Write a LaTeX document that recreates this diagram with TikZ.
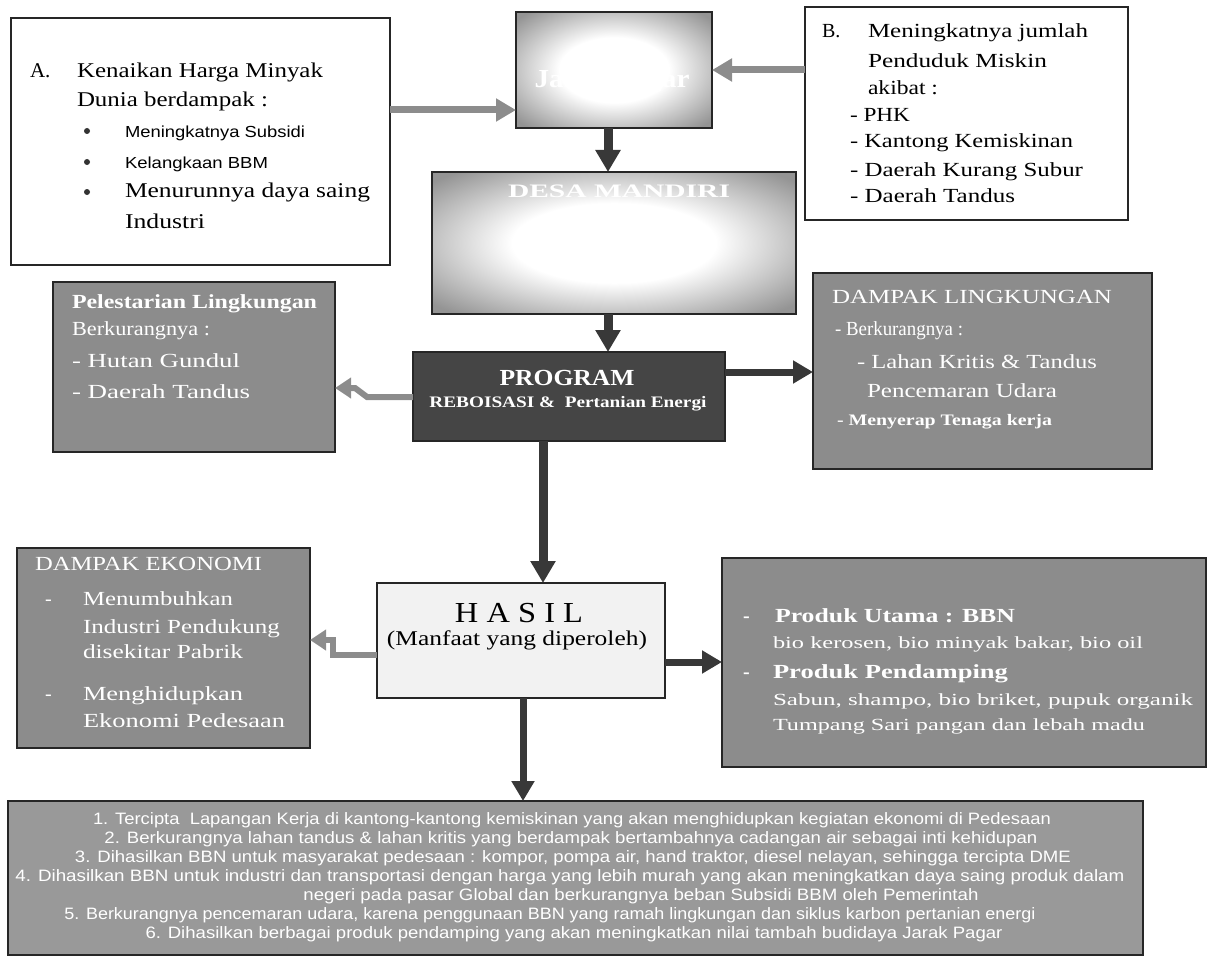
\documentclass[tikz,border=0pt]{standalone}
\usepackage{graphicx}
\usepackage{fontspec}
\setmainfont{Liberation Serif}
\newfontfamily\arial{Liberation Sans}
\usetikzlibrary{arrows.meta}

\definecolor{boxgray}{gray}{0.55}
\definecolor{boxlight}{gray}{0.60}
\definecolor{boxdark}{gray}{0.27}
\definecolor{arrowdark}{gray}{0.22}
\definecolor{arrowgray}{gray}{0.55}
\definecolor{hasilfill}{gray}{0.95}
\definecolor{glowrim}{gray}{0.58}

% white centre fading to grey at the rim
\pgfdeclareradialshading{glow}{\pgfpoint{0bp}{0bp}}{%
  color(0bp)=(white); color(14bp)=(white); color(33bp)=(glowrim); color(50bp)=(glowrim)}

% set a line at a given width (in pt), keeping its height
\newcommand\fitw[2]{\resizebox{#1pt}{\height}{#2}}
\newcommand\fsz[1]{\fontsize{#1}{#1}\selectfont}

\tikzset{
  box/.style={draw=black!85, line width=1.1pt, inner sep=0pt, outer sep=0pt},
  whitebox/.style={box, fill=white},
  graybox/.style={box, fill=boxgray},
  lightbox/.style={box, fill=boxlight},
  darkbox/.style={box, fill=boxdark},
  glowbox/.style={box, shade, shading=glow},
  t/.style={anchor=base west, inner sep=0pt, outer sep=0pt},
  tc/.style={anchor=base, inner sep=0pt, outer sep=0pt},
  wt/.style={t, text=white},
  wtc/.style={tc, text=white},
  bul/.style={circle, fill=black!80, inner sep=0pt, minimum size=6pt},
  darrow/.style={draw=arrowdark, line width=9pt,
    -{Triangle[length=22pt,width=24pt]}},
  darrowthin/.style={draw=arrowdark, line width=7pt,
    -{Triangle[length=20pt,width=22pt]}},
  garrow/.style={draw=arrowgray, line width=7pt,
    -{Triangle[length=20pt,width=22pt]}},
  zarrow/.style={draw=arrowgray, line width=6pt, line join=miter,
    -{Triangle[length=16pt,width=20pt]}},
}

\begin{document}
\begin{tikzpicture}[x=1pt, y=-1pt]
\useasboundingbox (0,0) rectangle (1210,963);

% ---------- boxes ----------
\node[whitebox, minimum width=379pt, minimum height=247pt] (boxA) at (200.5,141.5) {};
\node[glowbox,  minimum width=196pt, minimum height=116pt] (top)  at (614,70) {};
\node[whitebox, minimum width=323pt, minimum height=213pt] (boxB) at (966.5,113.5) {};
\node[glowbox,  minimum width=364pt, minimum height=142pt] (desa) at (614,243) {};
\node[graybox,  minimum width=282pt, minimum height=170pt] (pel)  at (194,367) {};
\node[darkbox,  minimum width=312pt, minimum height=89pt]  (prog) at (569,396.5) {};
\node[graybox,  minimum width=339pt, minimum height=196pt] (ling) at (982.5,371) {};
\node[graybox,  minimum width=293pt, minimum height=200pt] (eko)  at (163.5,648) {};
\node[box, fill=hasilfill, minimum width=288pt, minimum height=115pt] (hasil) at (521,640.5) {};
\node[graybox,  minimum width=484pt, minimum height=209pt] (prod) at (964,662.5) {};
\node[lightbox, minimum width=1135pt, minimum height=154pt] (bottom) at (575.5,878) {};

% ---------- connectors ----------
\draw[garrow] (boxA.east |- 0,110) -- (top.west |- 0,110);
\draw[garrow] (boxB.west |- 0,70) -- (top.east |- 0,70);
\draw[darrow] (608,0 |- top.south) -- (608,0 |- desa.north);
\draw[darrow] (608,0 |- desa.south) -- (608,0 |- prog.north);
\draw[darrowthin] (prog.east |- 0,372) -- (ling.west |- 0,372);
\draw[zarrow] (prog.west |- 0,397) -- (367,397) -- (355,388) -- (pel.east |- 0,388);
\draw[darrow] (543,0 |- prog.south) -- (543,0 |- hasil.north);
\draw[zarrow] (hasil.west |- 0,655) -- (333,655) -- (333,640) -- (eko.east |- 0,640);
\draw[darrowthin] (hasil.east |- 0,662) -- (prod.west |- 0,662);
\draw[darrowthin] (523,0 |- hasil.south) -- (523,0 |- bottom.north);

% ---------- A ----------
\node[t, font=\fsz{21}] (aA) at (30,78) {A.};
\node[t, font=\fsz{21}] (a1) at (77,78) {\fitw{246}{Kenaikan Harga Minyak}};
\node[t, font=\fsz{21}] (a2) at (77,107) {\fitw{191}{Dunia berdampak :}};
\node[bul] (b1) at (87,131) {};
\node[bul] (b2) at (87,162) {};
\node[bul] (b3) at (87,192) {};
\node[t, font=\arial\fsz{16}] (a3) at (125,138) {\fitw{180}{Meningkatnya Subsidi}};
\node[t, font=\arial\fsz{16}] (a4) at (125,168) {\fitw{143}{Kelangkaan BBM}};
\node[t, font=\fsz{21}] (a5) at (125,197) {\fitw{245}{Menurunnya daya saing}};
\node[t, font=\fsz{21}] (a6) at (125,228) {\fitw{80}{Industri}};

% ---------- B ----------
\node[t, font=\fsz{20}] (bB) at (822,38) {B.};
\node[t, font=\fsz{20}] (bl1) at (868,38) {\fitw{220}{Meningkatnya jumlah}};
\node[t, font=\fsz{20}] (bl2) at (868,68) {\fitw{179}{Penduduk Miskin}};
\node[t, font=\fsz{20}] (bl3) at (868,95) {\fitw{70}{akibat :}};
\node[t, font=\fsz{20}] (bl4) at (850,122) {\fitw{60}{- PHK}};
\node[t, font=\fsz{20}] (bl5) at (850,148) {\fitw{223}{- Kantong Kemiskinan}};
\node[t, font=\fsz{20}] (bl6) at (850,176) {\fitw{233}{- Daerah Kurang Subur}};
\node[t, font=\fsz{20}] (bl7) at (850,202) {\fitw{165}{- Daerah Tandus}};

% ---------- top boxes ----------
\node[wtc, font=\bfseries\fsz{26}] (jp) at (612,88) {\fitw{155}{Jarak Pagar}};
\node[wtc, font=\bfseries\fsz{19}] (dm) at (619,197) {\fitw{222}{DESA MANDIRI}};

% ---------- PROGRAM ----------
\node[wtc, font=\bfseries\fsz{23}] (pg1) at (567,385) {\fitw{135}{PROGRAM}};
\node[wtc, font=\bfseries\fsz{16}] (pg2) at (568,407) {\fitw{277}{REBOISASI \&\ \ Pertanian Energi}};

% ---------- Pelestarian ----------
\node[wt, font=\bfseries\fsz{20}] (pe1) at (72,308) {\fitw{245}{Pelestarian Lingkungan}};
\node[wt, font=\fsz{20}] (pe2) at (72,335) {\fitw{138}{Berkurangnya :}};
\node[wt, font=\fsz{20}] (pe3) at (72,367) {\fitw{168}{- Hutan Gundul}};
\node[wt, font=\fsz{20}] (pe4) at (72,398) {\fitw{178}{- Daerah Tandus}};

% ---------- DAMPAK LINGKUNGAN ----------
\node[wt, font=\fsz{20}] (li1) at (832,303) {\fitw{280}{DAMPAK LINGKUNGAN}};
\node[wt, font=\fsz{20}] (li2) at (835,335) {\fitw{128}{- Berkurangnya :}};
\node[wt, font=\fsz{20}] (li3) at (857,368) {\fitw{240}{- Lahan Kritis \& Tandus}};
\node[wt, font=\fsz{20}] (li4) at (867,397) {\fitw{190}{Pencemaran Udara}};
\node[wt, font=\bfseries\fsz{16}] (li5) at (837,425) {\fitw{215}{- Menyerap Tenaga kerja}};

% ---------- HASIL ----------
\node[tc, font=\fsz{29}] (h1) at (519,622) {\fitw{128}{H A S I L}};
\node[tc, font=\fsz{21}] (h2) at (517,645) {\fitw{260}{(Manfaat yang diperoleh)}};

% ---------- DAMPAK EKONOMI ----------
\node[wt, font=\fsz{20}] (ek1) at (35,570) {\fitw{227}{DAMPAK EKONOMI}};
\node[wt, font=\fsz{20}] (ekd1) at (45,605) {-};
\node[wt, font=\fsz{20}] (ek2) at (83,605) {\fitw{150}{Menumbuhkan}};
\node[wt, font=\fsz{20}] (ek3) at (83,633) {\fitw{197}{Industri Pendukung}};
\node[wt, font=\fsz{20}] (ek4) at (83,658) {\fitw{160}{disekitar Pabrik}};
\node[wt, font=\fsz{20}] (ekd2) at (45,700) {-};
\node[wt, font=\fsz{20}] (ek5) at (83,700) {\fitw{160}{Menghidupkan}};
\node[wt, font=\fsz{20}] (ek6) at (83,727) {\fitw{202}{Ekonomi Pedesaan}};

% ---------- products ----------
\node[wt, font=\bfseries\fsz{20}] (prd1) at (743,622) {-};
\node[wt, font=\bfseries\fsz{20}] (pr1) at (775,622) {\fitw{240}{Produk Utama : BBN}};
\node[wt, font=\fsz{17}] (pr2) at (773,648) {\fitw{370}{bio kerosen, bio minyak bakar, bio oil}};
\node[wt, font=\bfseries\fsz{20}] (prd2) at (743,678) {-};
\node[wt, font=\bfseries\fsz{20}] (pr3) at (773,678) {\fitw{235}{Produk Pendamping}};
\node[wt, font=\fsz{17}] (pr4) at (773,705) {\fitw{420}{Sabun, shampo, bio briket, pupuk organik}};
\node[wt, font=\fsz{17}] (pr5) at (773,730) {\fitw{372}{Tumpang Sari pangan dan lebah madu}};

% ---------- results ----------
\begin{scope}[every node/.style={wtc, font=\arial\fsz{16.5}}]
\node (r1) at (572,824) {\fitw{958}{1. Tercipta\ \ Lapangan Kerja di kantong-kantong kemiskinan yang akan menghidupkan kegiatan ekonomi di Pedesaan}};
\node (r2) at (571,843) {\fitw{933}{2. Berkurangnya lahan tandus \& lahan kritis yang berdampak bertambahnya cadangan air sebagai inti kehidupan}};
\node (r3) at (573,862) {\fitw{996}{3. Dihasilkan BBN untuk masyarakat pedesaan : kompor, pompa air, hand traktor, diesel nelayan, sehingga tercipta DME}};
\node (r4) at (570,881) {\fitw{1109}{4. Dihasilkan BBN untuk industri dan transportasi dengan harga yang lebih murah yang akan meningkatkan daya saing produk dalam}};
\node (r4b) at (641,900) {\fitw{675}{negeri pada pasar Global dan berkurangnya beban Subsidi BBM oleh Pemerintah}};
\node (r5) at (550,919) {\fitw{971}{5. Berkurangnya pencemaran udara, karena penggunaan BBN yang ramah lingkungan dan siklus karbon pertanian energi}};
\node (r6) at (574,938) {\fitw{857}{6. Dihasilkan berbagai produk pendamping yang akan meningkatkan nilai tambah budidaya Jarak Pagar}};
\end{scope}
\end{tikzpicture}
\end{document}
